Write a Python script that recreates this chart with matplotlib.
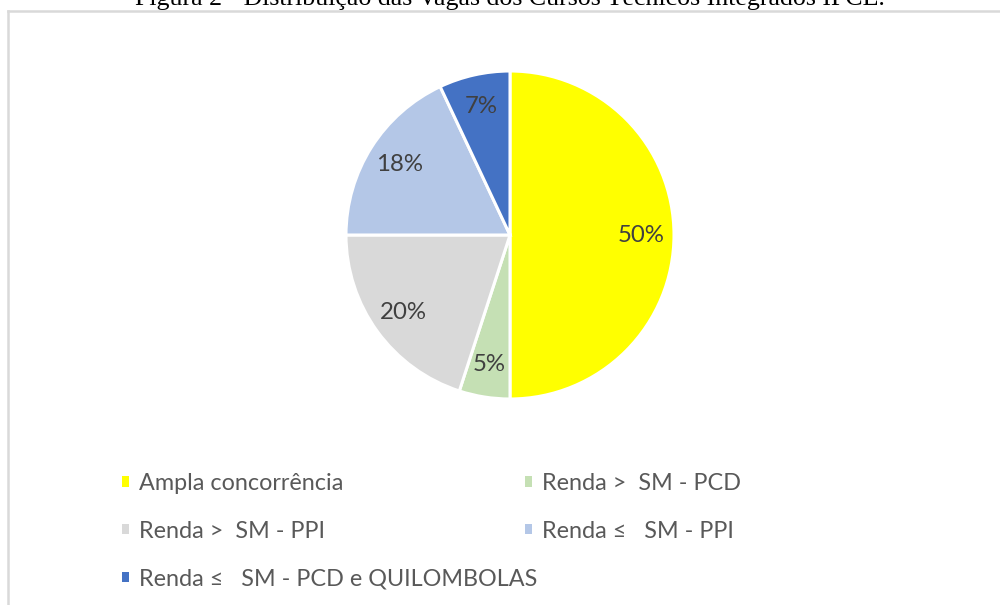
import numpy as np
import matplotlib.pyplot as plt
from matplotlib.patches import Patch
from matplotlib.lines import Line2D

# dados
categorias = ['Ampla concorrência', 'Renda >  SM - PCD', 'Renda >  SM - PPI',
              'Renda ≤   SM - PPI', 'Renda ≤   SM - PCD e QUILOMBOLAS']
valores = [50, 5, 20, 18, 7]
cores = ['#FFFF00', '#C5E0B4', '#D9D9D9', '#B4C7E7', '#4472C4']
titulo = 'Figura 2 - Distribuição das Vagas dos Cursos Técnicos Integrados IFCE.'

plt.rcParams['font.family'] = ['Lato', 'DejaVu Sans']

fig = plt.figure(figsize=(10, 6.05), dpi=100)
W, H = 1000, 605

# titulo cortado no topo
fig.text(0.51, 1 - 5.5 / H, titulo, ha='center', va='baseline',
         fontsize=18.6, family='Liberation Serif', color='black')

# moldura
fig.add_artist(Line2D([8 / W, 1.0], [1 - 11 / H, 1 - 11 / H], color='#d9d9d9', lw=1.8))
fig.add_artist(Line2D([8 / W, 8 / W], [0, 1 - 11 / H], color='#d9d9d9', lw=1.8))

# pizza
cx, cy, r = 510, 235, 164
pad = 1.05
ax = fig.add_axes([(cx - r * pad) / W, 1 - (cy + r * pad) / H, 2 * r * pad / W, 2 * r * pad / H])
wedges, _, autotexts = ax.pie(valores, colors=cores, startangle=90, counterclock=False,
                              autopct='%1.0f%%', pctdistance=0.8,
                              wedgeprops=dict(edgecolor='white', linewidth=2.2))
for t in autotexts:
    t.set_color('#404040')
    t.set_fontsize(17.3)
ax.set_xlim(-pad, pad)
ax.set_ylim(-pad, pad)
ax.set_aspect('equal')

# legenda em duas colunas, ordem por linha
handles = [Patch(facecolor=c, edgecolor='none') for c in cores]
leg_kw = dict(frameon=False, fontsize=16.8, labelcolor='#595959', handlelength=0.3,
              handleheight=0.3, handletextpad=0.42, labelspacing=1.14, borderaxespad=0,
              borderpad=0, loc='upper left')
col1 = [0, 2, 4]
col2 = [1, 3]
leg1 = fig.legend([handles[i] for i in col1], [categorias[i] for i in col1],
                  bbox_to_anchor=(122 / W, 1 - 473 / H), **leg_kw)
leg2 = fig.legend([handles[i] for i in col2], [categorias[i] for i in col2],
                  bbox_to_anchor=(525 / W, 1 - 473 / H), **leg_kw)

fig.savefig('out.png', dpi=100, facecolor='white')
